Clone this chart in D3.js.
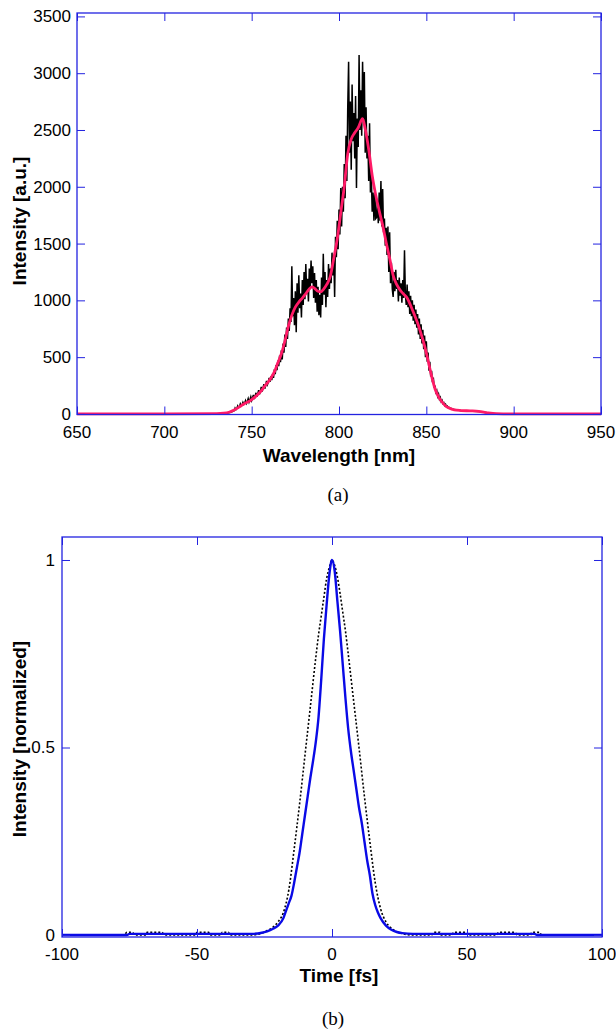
<!DOCTYPE html>
<html>
<head>
<meta charset="utf-8">
<script src="https://cdn.jsdelivr.net/npm/d3@7"></script>
<style>
	body { margin: 0; background: #fff; }
	svg { display: block; }
	.tick-lbl { font-family: "Liberation Sans", Arial, sans-serif; font-size: 17px; fill: #000; }
	.ax-title { font-family: "Liberation Sans", Arial, sans-serif; font-size: 19px; font-weight: bold; fill: #000; }
	.caption { font-family: "Liberation Serif", "Times New Roman", serif; font-size: 19px; fill: #000; }
</style>
</head>
<body>
<svg id="fig" width="616" height="1032"></svg>
<script>

	//==========================
	// DATA (a) spectrum
	//==========================
	var wlTicks = [650, 700, 750, 800, 850, 900, 950];
	var intTicks = [0, 500, 1000, 1500, 2000, 2500, 3000, 3500];

	// measured spectrum [nm, a.u.]
	var rawSpectrum = [[650,0],[735,4],[738,14],
		[740,28],[740.5,52],[741,38],[741.5,47],[742,70],[742.5,55],[743,62],[743.5,88],[744,71],[744.5,79],
		[745,102],[745.5,84],[746,96],[746.5,118],[747,93],[747.5,110],[748,135],[748.5,104],[749,126],[749.5,150],
		[750,118],[750.5,142],[751,168],[751.5,130],[752,158],[752.5,186],[753,150],[753.5,178],[754,210],[754.5,172],
		[755,200],[755.5,238],[756,196],[756.5,228],[757,262],[757.5,222],[758,248],[758.5,290],[759,258],[759.5,276],
		[760,318],[760.5,282],[761,330],[761.5,298],[762,352],[762.5,318],[763,392],[763.5,350],[764,430],[764.5,385],
		[765,470],[765.5,420],[766,515],[766.5,455],[767,560],[767.5,480],[768,620],[768.5,540],[769,700],[769.5,590],
		[770,760],[770.5,660],[771,840],[771.5,730],[772,930],[772.5,810],[773,1300],[773.5,860],[774,1020],[774.5,780],
		[775,1080],[775.5,720],[776,1150],[776.5,890],[777,1220],[777.5,930],[778,1060],[778.5,850],[779,1180],[779.5,960],
		[780,1250],[780.5,1010],[781,1320],[781.5,1060],[782,1190],[782.5,990],[783,1280],[783.5,1100],[784,1350],[784.5,1150],
		[785,1300],[785.5,1020],[786,1240],[786.5,980],[787,1180],[787.5,900],[788,1120],[788.5,870],[789,1050],[789.5,850],
		[790,1200],[790.5,960],[791,1410],[791.5,1050],[792,1250],[792.5,940],[793,1180],[793.5,1030],[794,1320],[794.5,1100],
		[795,1280],[795.5,1150],[796,1420],[796.5,1220],[797,1400],[797.5,1030],[798,1560],[798.5,1380],[799,1700],[799.5,1450],
		[800,1800],[800.5,1580],[801,1990],[801.5,1650],[802,2000],[802.5,1780],[803,2200],[803.5,1900],[804,2450],[804.5,2050],
		[805,2700],[805.5,3100],[806,2300],[806.5,2750],[807,2150],[807.5,2900],[808,2400],[808.5,2650],[809,2250],[809.5,2800],
		[810,1990],[810.5,2600],[811,2350],[811.5,3160],[812,2500],[812.5,2850],[813,2450],[813.5,3100],[814,2600],[814.5,3010],
		[815,2300],[815.5,2700],[816,2250],[816.5,2450],[817,2050],[817.5,2560],[818,1950],[818.5,2100],[819,1780],[819.5,1950],
		[820,1700],[820.5,1960],[821,1720],[821.5,1730],[822,1880],[822.5,1680],[823,1950],[823.5,1700],[824,2050],[824.5,1650],
		[825,1980],[825.5,1600],[826,1720],[826.5,1480],[827,1640],[827.5,1400],[828,1650],[828.5,1250],[829,1600],[829.5,1150],
		[830,1330],[830.5,1100],[831,1030],[831.5,1250],[832,1080],[832.5,1270],[833,1100],[833.5,1180],[834,990],[834.5,1200],
		[835,1040],[835.5,1150],[836,980],[836.5,1180],[837,1020],[837.5,1440],[838,1050],[838.5,960],[839,1140],[839.5,940],
		[840,1080],[840.5,880],[841,1040],[841.5,860],[842,1000],[842.5,820],[843,960],[843.5,790],[844,920],[844.5,760],
		[845,880],[845.5,700],[846,840],[846.5,660],[847,790],[847.5,620],[848,740],[848.5,570],[849,690],[849.5,500],
		[850,640],[850.5,460],[851,540],[851.5,380],[852,460],[852.5,330],[853,380],[853.5,280],[854,320],[854.5,230],
		[855,250],[855.5,190],[856,205],[856.5,155],[857,175],[857.5,130],[858,145],[858.5,108],[859,120],[859.5,92],
		[860,100],[860.5,75],[861,85],[861.5,65],[862,70],[862.5,55],[863,58],[863.5,48],[864,50],
		[866,38],[870,29],[880,22],[890,0],[950,0]];

	// smoothed spectrum [nm, a.u.]
	var smoothSpectrum = [[650,0],[700,0],[730,2],[734,6],[737,15],[740,35],[743,62],[746,92],[749,115],[752,150],
		[755,195],[758,255],[761,315],[763,370],[765,450],[767,530],[769,640],[771,770],[773,870],[775,940],
		[777,985],[779,1020],[781,1060],[783,1100],[784.5,1118],[786,1105],[788,1080],[789.5,1075],[791,1095],[793,1140],
		[795,1210],[797,1370],[799,1540],[801,1770],[803,2000],[805,2290],[807,2420],[809,2475],[811,2520],[813.5,2600],
		[815,2510],[817,2330],[819,2100],[821,1930],[823,1790],[825,1660],[827,1510],[829,1370],[831,1220],[833,1140],
		[835,1090],[837,1055],[839,1020],[841,955],[843,880],[845,800],[847,705],[849,600],[851,470],[853,335],
		[855,220],[857,150],[859,105],[861,70],[863,52],[866,36],[870,30],[875,27],[880,23],[885,10],
		[890,2],[900,0],[950,0]];

	//==========================
	// DATA (b) pulse
	//==========================
	var timeTicks = [-100, -50, 0, 50, 100];
	var normTicks = [0, 0.5, 1];

	// retrieved pulse [fs, normalized]
	var pulseMeasured = [[-100,0],[-76,0],[-75,0.003],[-30,0.003],[-26,0.006],[-24,0.01],[-22,0.016],[-20,0.025],
		[-18,0.045],[-17,0.065],[-16,0.085],[-15,0.105],[-14,0.14],[-13,0.18],[-12,0.22],[-11,0.27],[-10,0.32],
		[-9,0.37],[-8,0.42],[-7,0.465],[-6,0.515],[-5,0.58],[-4,0.68],[-3,0.79],[-2,0.88],[-1,0.96],[0,1],
		[1,0.97],[2,0.89],[3,0.81],[4,0.72],[5,0.63],[6,0.55],[7,0.49],[8,0.44],[9,0.39],[10,0.34],[11,0.3],
		[12,0.25],[13,0.2],[14,0.16],[15,0.11],[16,0.08],[17,0.06],[18,0.045],[20,0.025],[22,0.014],[24,0.008],
		[26,0.005],[30,0.003],[75,0.003],[76,0],[100,0]];

	// transform limited pulse [fs, normalized]
	var pulseTL = [[-100,0],[-77,0],[-76,0.007],[-74,0.007],[-73,0],[-69,0],[-68.5,0.007],[-63,0.007],[-62,0],
		[-50.5,0],[-50,0.007],[-45.7,0.007],[-45,0],[-41,0],[-40.7,0.007],[-38.3,0.007],[-38,0],[-30,0],
		[-26,0.005],[-24,0.012],[-22,0.02],[-20,0.035],[-18,0.06],[-16,0.12],[-14,0.23],[-12,0.35],[-10,0.48],
		[-8,0.61],[-6,0.74],[-5,0.8],[-4,0.85],[-3,0.9],[-2,0.95],[-1,0.98],[0,1],[1,0.985],[2,0.955],[3,0.91],
		[4,0.86],[5,0.81],[6,0.75],[8,0.625],[10,0.5],[12,0.37],[14,0.25],[16,0.14],[18,0.07],[20,0.035],
		[22,0.018],[25,0.006],[30,0],[37,0],[37.6,0.007],[40,0.007],[40.5,0],[44.5,0],[45,0.007],[50,0.007],
		[50.5,0],[61,0],[61.7,0.007],[67.8,0.007],[68.5,0],[73.5,0],[74,0.007],[77,0.007],[77.5,0],[100,0]];

	var axColor = "#2323e0";
	var svg = d3.select("#fig");

	// draws the boxed axes the matlab way (ticks inside, on all four sides)
	function drawFrame(g, x, y, xTicks, yTicks, yFmt, yLblX) {
		var x0 = x.range()[0], x1 = x.range()[1];
		var y0 = y.range()[0], y1 = y.range()[1];

		g.append("g").attr("transform", "translate(0," + y0 + ")")
			.call(d3.axisBottom(x).tickValues(xTicks).tickSize(-8).tickFormat(""))
			.call(function(a){ a.select(".domain").remove(); });
		g.append("g").attr("transform", "translate(0," + y1 + ")")
			.call(d3.axisTop(x).tickValues(xTicks).tickSize(-8).tickFormat(""))
			.call(function(a){ a.select(".domain").remove(); });
		g.append("g").attr("transform", "translate(" + x0 + ",0)")
			.call(d3.axisLeft(y).tickValues(yTicks).tickSize(-8).tickFormat(""))
			.call(function(a){ a.select(".domain").remove(); });
		g.append("g").attr("transform", "translate(" + x1 + ",0)")
			.call(d3.axisRight(y).tickValues(yTicks).tickSize(-8).tickFormat(""))
			.call(function(a){ a.select(".domain").remove(); });
		g.selectAll(".tick line").attr("stroke", axColor).attr("stroke-width", 1);

		g.append("rect")
			.attr("x", x0).attr("y", y1)
			.attr("width", x1 - x0).attr("height", y0 - y1)
			.attr("fill", "none").attr("stroke", axColor).attr("stroke-width", 1.3);

		g.selectAll(".xl").data(xTicks).enter().append("text")
			.attr("class", "tick-lbl")
			.attr("x", function(d){ return x(d); })
			.attr("y", y0 + 23)
			.attr("text-anchor", "middle")
			.text(function(d){ return d; });

		g.selectAll(".yl").data(yTicks).enter().append("text")
			.attr("class", "tick-lbl")
			.attr("x", yLblX)
			.attr("y", function(d){ return y(d); })
			.attr("dy", "0.35em")
			.attr("text-anchor", "end")
			.text(yFmt);
	}

	//==========================
	// (a) SPECTRUM
	//==========================
	var xA = d3.scaleLinear().domain([650, 950]).range([77, 601]);
	var yA = d3.scaleLinear().domain([-5, 3530]).range([414.5, 13]);
	var gA = svg.append("g");

	var lineA = d3.line()
		.x(function(d){ return xA(d[0]); })
		.y(function(d){ return yA(d[1]); });

	gA.append("path").datum(rawSpectrum)
		.attr("d", lineA)
		.attr("fill", "none").attr("stroke", "#000").attr("stroke-width", 1.5);

	gA.append("path").datum(smoothSpectrum)
		.attr("d", lineA.curve(d3.curveMonotoneX))
		.attr("fill", "none").attr("stroke", "#ff1a66").attr("stroke-width", 2.8);

	drawFrame(gA, xA, yA, wlTicks, intTicks, function(d){ return d; }, 71);

	gA.append("text").attr("class", "ax-title")
		.attr("x", 339).attr("y", 462)
		.attr("text-anchor", "middle")
		.text("Wavelength [nm]");
	gA.append("text").attr("class", "ax-title")
		.attr("transform", "translate(26,221) rotate(-90)")
		.attr("text-anchor", "middle")
		.text("Intensity [a.u.]");
	gA.append("text").attr("class", "caption")
		.attr("x", 338).attr("y", 501)
		.attr("text-anchor", "middle")
		.text("(a)");

	//==========================
	// (b) PULSE
	//==========================
	var xB = d3.scaleLinear().domain([-100, 100]).range([62, 602]);
	var yB = d3.scaleLinear().domain([-0.0053, 1.0613]).range([937, 537]);
	var gB = svg.append("g");

	var lineB = d3.line()
		.x(function(d){ return xB(d[0]); })
		.y(function(d){ return yB(d[1]); })
		.curve(d3.curveMonotoneX);

	gB.append("path").datum(pulseTL)
		.attr("d", lineB)
		.attr("fill", "none").attr("stroke", "#000").attr("stroke-width", 1.6)
		.attr("stroke-dasharray", "2,2");

	gB.append("path").datum(pulseMeasured)
		.attr("d", lineB)
		.attr("fill", "none").attr("stroke", "#0a0ae6").attr("stroke-width", 2.4);

	drawFrame(gB, xB, yB, timeTicks, normTicks, function(d){ return d; }, 55);

	gB.append("text").attr("class", "ax-title")
		.attr("x", 339).attr("y", 982)
		.attr("text-anchor", "middle")
		.text("Time [fs]");
	gB.append("text").attr("class", "ax-title")
		.attr("transform", "translate(26,739) rotate(-90)")
		.attr("text-anchor", "middle")
		.text("Intensity [normalized]");
	gB.append("text").attr("class", "caption")
		.attr("x", 333).attr("y", 1025)
		.attr("text-anchor", "middle")
		.text("(b)");

</script>
</body>
</html>
